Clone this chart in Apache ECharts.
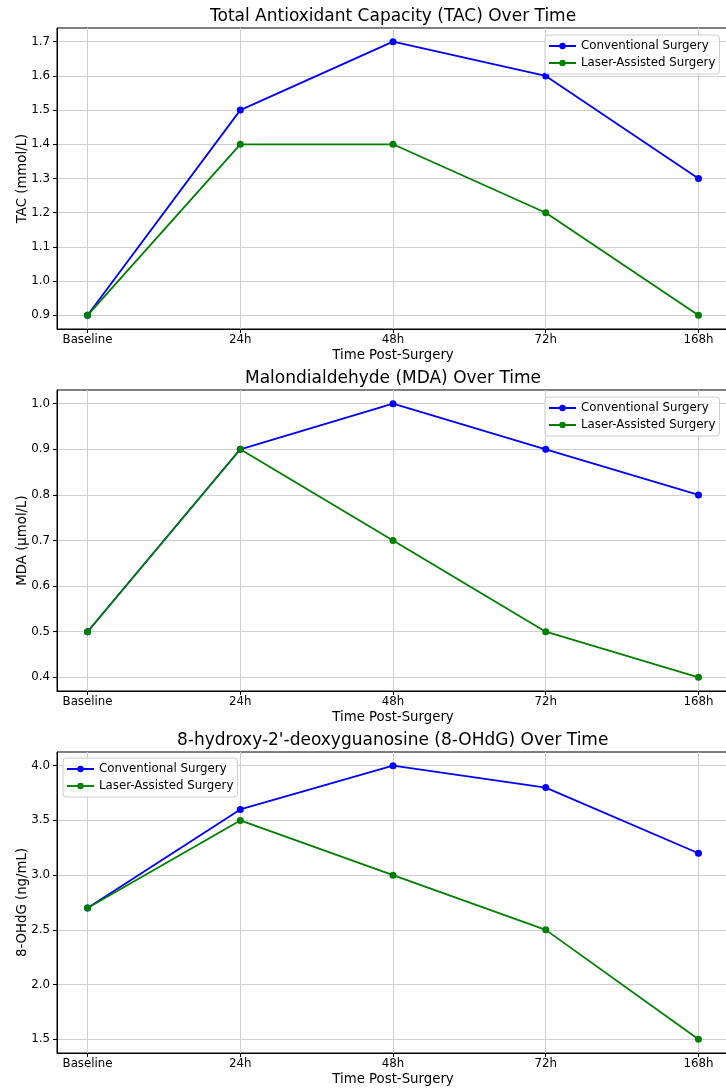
<!DOCTYPE html>
<html>
<head>
<meta charset="utf-8">
<title>Oxidative stress markers over time</title>
<script src="https://cdn.jsdelivr.net/npm/echarts@6/dist/echarts.min.js"></script>
<style>
  html, body { margin: 0; padding: 0; background: #fff; }
  #chart { width: 726px; height: 1092px; }
</style>
</head>
<body>
<div id="chart"></div>
<script>
// categories on the x axis
const timePoints = ['Baseline', '24h', '48h', '72h', '168h']
const seriesNames = ['Conventional Surgery', 'Laser-Assisted Surgery']

// TAC (mmol/L)
const tacConventional = [0.9, 1.5, 1.7, 1.6, 1.3]
const tacLaser = [0.9, 1.4, 1.4, 1.2, 0.9]
const tacTicks = [0.9, 1.0, 1.1, 1.2, 1.3, 1.4, 1.5, 1.6, 1.7]

// MDA (µmol/L)
const mdaConventional = [0.5, 0.9, 1.0, 0.9, 0.8]
const mdaLaser = [0.5, 0.9, 0.7, 0.5, 0.4]
const mdaTicks = [0.4, 0.5, 0.6, 0.7, 0.8, 0.9, 1.0]

// 8-OHdG (ng/mL)
const ohdgConventional = [2.7, 3.6, 4.0, 3.8, 3.2]
const ohdgLaser = [2.7, 3.5, 3.0, 2.5, 1.5]
const ohdgTicks = [1.5, 2.0, 2.5, 3.0, 3.5, 4.0]

const FONT = 'DejaVu Sans'
const BLUE = '#0000ff'
const GREEN = '#008000'
const GRID_LINE = { color: '#cfcfcf', width: 1 }

/* 三个子图的配置 */
const panels = [
  {
    title: 'Total Antioxidant Capacity (TAC) Over Time',
    yName: 'TAC (mmol/L)',
    data: [tacConventional, tacLaser],
    ticks: tacTicks,
    top: 28,
    titleLeft: 210,
    legendLeft: 545,
    legendTop: 35
  },
  {
    title: 'Malondialdehyde (MDA) Over Time',
    yName: 'MDA (µmol/L)',
    data: [mdaConventional, mdaLaser],
    ticks: mdaTicks,
    top: 390,
    titleLeft: 245,
    legendLeft: 545,
    legendTop: 397
  },
  {
    title: "8-hydroxy-2'-deoxyguanosine (8-OHdG) Over Time",
    yName: '8-OHdG (ng/mL)',
    data: [ohdgConventional, ohdgLaser],
    ticks: ohdgTicks,
    top: 752,
    titleLeft: 177,
    legendLeft: 63,
    legendTop: 758
  }
]

const xIdx = timePoints.map((_, i) => i)

const option = {
  animation: false,
  backgroundColor: '#fff',
  textStyle: { fontFamily: FONT, color: '#000' },
  title: [],
  legend: [],
  grid: [],
  xAxis: [],
  yAxis: [],
  series: []
}

panels.forEach((p, k) => {
  const all = p.data[0].concat(p.data[1])
  const lo = Math.min.apply(null, all)
  const hi = Math.max.apply(null, all)
  const pad = (hi - lo) * 0.05

  option.title.push({
    text: p.title,
    left: p.titleLeft,
    top: p.top - 20,
    padding: 0,
    textStyle: { fontFamily: FONT, fontSize: 17, fontWeight: 'normal', color: '#000' }
  })

  option.legend.push({
    data: seriesNames,
    orient: 'vertical',
    left: p.legendLeft,
    top: p.legendTop,
    padding: [5, 4, 5, 3],
    itemWidth: 27,
    itemHeight: 8,
    itemGap: 5,
    borderColor: '#cccccc',
    borderWidth: 1,
    borderRadius: 3,
    backgroundColor: 'rgba(255,255,255,0.8)',
    textStyle: { fontFamily: FONT, fontSize: 11.8, color: '#000' }
  })

  option.grid.push({
    left: 57,
    top: p.top,
    width: 672,
    height: 301,
    containLabel: false,
    outerBoundsMode: 'none',
    show: true,
    borderColor: '#000',
    borderWidth: 1,
    backgroundColor: 'transparent'
  })

  option.xAxis.push({
    gridIndex: k,
    type: 'value',
    min: -0.2,
    max: 4.2,
    name: 'Time Post-Surgery',
    nameLocation: 'middle',
    nameGap: 20,
    nameMoveOverlap: false,
    nameTextStyle: { fontFamily: FONT, fontSize: 13.3, color: '#000' },
    axisLine: { onZero: false, lineStyle: { color: '#000', width: 1 } },
    axisTick: { customValues: xIdx, length: 4, lineStyle: { color: '#000' } },
    axisLabel: {
      customValues: xIdx,
      margin: 5,
      fontFamily: FONT,
      fontSize: 11.8,
      color: '#000',
      formatter: v => timePoints[Math.round(v)]
    },
    splitLine: { show: true, lineStyle: GRID_LINE }
  })

  option.yAxis.push({
    gridIndex: k,
    type: 'value',
    min: lo - pad,
    max: hi + pad,
    name: p.yName,
    nameLocation: 'middle',
    nameGap: 28,
    nameMoveOverlap: false,
    nameTextStyle: { fontFamily: FONT, fontSize: 13.3, color: '#000' },
    axisLine: { show: true, onZero: false, lineStyle: { color: '#000', width: 1 } },
    axisTick: { show: true, customValues: p.ticks, length: 4, lineStyle: { color: '#000' } },
    axisLabel: {
      customValues: p.ticks,
      margin: 7,
      fontFamily: FONT,
      fontSize: 11.8,
      color: '#000',
      formatter: v => v.toFixed(1)
    },
    splitLine: { show: true, lineStyle: GRID_LINE }
  })

  // 蓝色先画，绿色在上
  ;[BLUE, GREEN].forEach((c, s) => {
    option.series.push({
      name: seriesNames[s],
      type: 'line',
      xAxisIndex: k,
      yAxisIndex: k,
      symbol: 'circle',
      symbolSize: 7,
      color: c,
      itemStyle: { color: c },
      lineStyle: { color: c, width: 1.8 },
      data: p.data[s].map((v, i) => [i, v])
    })
  })
})

const chart = echarts.init(document.getElementById('chart'), null, { renderer: 'canvas' })
chart.setOption(option)
</script>
</body>
</html>
